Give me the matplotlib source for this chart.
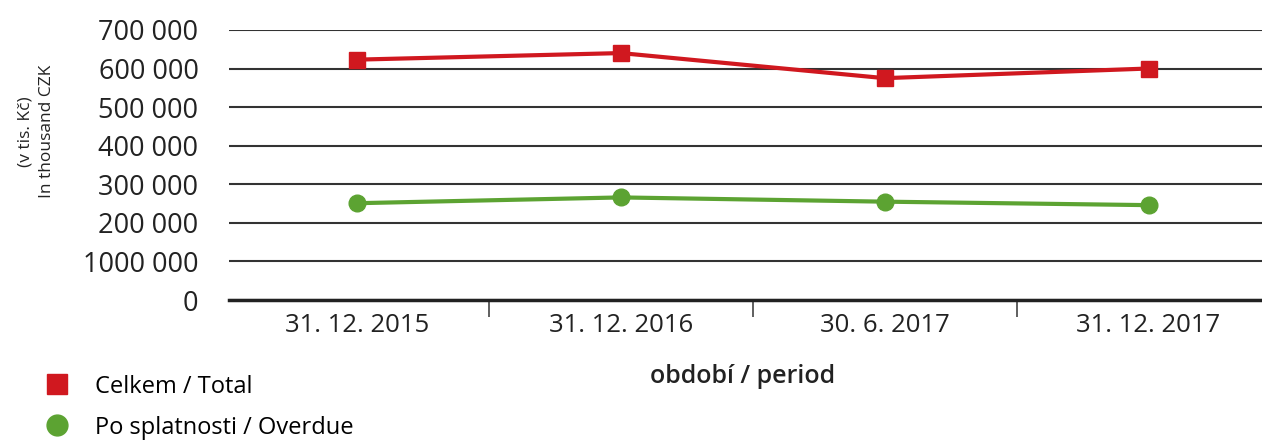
import numpy as np
import matplotlib.pyplot as plt
from matplotlib.lines import Line2D
from matplotlib.ticker import FixedLocator

plt.rcParams['font.family'] = ['Open Sans', 'DejaVu Sans']

# data (v tis. Kč)
periods = ['31. 12. 2015', '31. 12. 2016', '30. 6. 2017', '31. 12. 2017']
total = [623000, 640000, 575000, 600000]
overdue = [251000, 266000, 255000, 246000]
yticks = [0, 100000, 200000, 300000, 400000, 500000, 600000, 700000]
ytick_labels = ['0', '1000 000', '200 000', '300 000', '400 000',
                '500 000', '600 000', '700 000']

red = '#d0181f'
green = '#5ca332'
ink = '#222222'

fig = plt.figure(figsize=(12.62, 4.4), dpi=100)
ax = fig.add_axes([0.1815, 0.318, 0.8185, 0.614])

x = np.arange(len(periods))
ax.plot(x, total, color=red, lw=3, marker='s', ms=12, zorder=3, clip_on=False)
ax.plot(x, overdue, color=green, lw=3, marker='o', ms=12, zorder=3, clip_on=False)

ax.set_ylim(0, 700000)
ax.set_xlim(-0.485, 3.43)
ax.set_yticks(yticks)
ax.set_yticklabels(ytick_labels)
ax.tick_params(axis='y', length=0, pad=22, labelsize=19.5, labelcolor=ink)
ax.grid(axis='y', color='#333333', lw=1.5)
ax.set_axisbelow(True)

# category labels centred, tick marks between categories
ax.set_xticks(x)
ax.set_xticklabels(periods)
ax.tick_params(axis='x', which='major', length=0, pad=9, labelsize=18.5,
               labelcolor=ink)
ax.xaxis.set_minor_locator(FixedLocator([0.5, 1.5, 2.5]))
ax.tick_params(axis='x', which='minor', length=12, width=1.2, color='#444444')

for s in ['top', 'right', 'left']:
    ax.spines[s].set_visible(False)
ax.spines['bottom'].set_linewidth(2.5)
ax.spines['bottom'].set_color(ink)

ax.set_xlabel('období / period', fontsize=18, fontweight='semibold',
              color=ink)
ax.xaxis.set_label_coords((743 - 229) / (1262 - 229), -0.235)

fig.text(25 / 1262, 1 - 132 / 440, '(v tis. Kč)', rotation=90, fontsize=12.5,
         ha='center', va='center', color=ink)
fig.text(47 / 1262, 1 - 131 / 440, 'In thousand CZK', rotation=90, fontsize=12.5,
         ha='center', va='center', color=ink)

handles = [Line2D([], [], color=red, marker='s', ls='none', ms=15),
           Line2D([], [], color=green, marker='o', ls='none', ms=15)]
fig.legend(handles, ['Celkem / Total', 'Po splatnosti / Overdue'],
           loc='upper left', bbox_to_anchor=(0.019, 0.17), frameon=False,
           fontsize=17, handletextpad=0.6, labelspacing=0.72,
           borderaxespad=0)

fig.savefig('out.png', dpi=100)
